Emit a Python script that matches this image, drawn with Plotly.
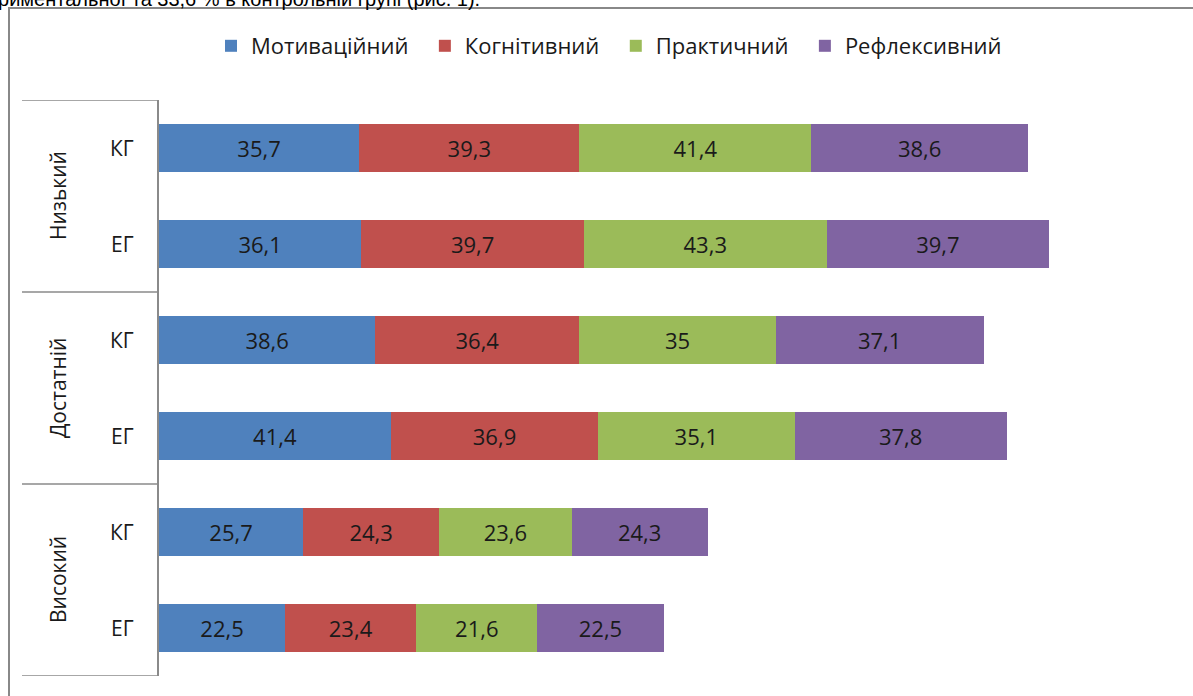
import plotly.graph_objects as go

levels = ["Низький", "Достатній", "Високий"]
groups = ["КГ", "ЕГ"]
series_names = ["Мотиваційний", "Когнітивний", "Практичний", "Рефлексивний"]
colors = ["#4F81BD", "#C0504D", "#9BBB59", "#8064A2"]

# rows top-to-bottom: Низький КГ, Низький ЕГ, Достатній КГ, Достатній ЕГ, Високий КГ, Високий ЕГ
motiv = [35.7, 36.1, 38.6, 41.4, 25.7, 22.5]
cogn = [39.3, 39.7, 36.4, 36.9, 24.3, 23.4]
pract = [41.4, 43.3, 35.0, 35.1, 23.6, 21.6]
refl = [38.6, 39.7, 37.1, 37.8, 24.3, 22.5]
series_values = [motiv, cogn, pract, refl]

row_pos = list(range(len(motiv)))

W, H = 1193, 696
L, R, T, B = 159, 1168, 100, 676
pw, ph = R - L, B - T


def px_x(x):
    return (x - L) / pw


def px_y(y):
    return (B - y) / ph


def fmt(v):
    return f"{v:g}".replace(".", ",")


NB = "\u00a0"
legend_labels = [n + NB * 2 if i < len(series_names) - 1 else n
                 for i, n in enumerate(series_names)]

fig = go.Figure()
for name, vals, col in zip(legend_labels, series_values, colors):
    fig.add_trace(go.Bar(
        x=vals, y=row_pos, orientation="h", name=name,
        marker=dict(color=col, line=dict(width=0)),
        text=[fmt(v) for v in vals], textposition="inside",
        insidetextanchor="middle", textangle=0, constraintext="none",
        textfont=dict(family="Open Sans", size=22, color="#1a1a1a"),
        hoverinfo="x+name",
    ))

annotations = []
# sub-group labels
for i, r in enumerate(row_pos):
    annotations.append(dict(
        x=px_x(122), xref="paper", y=r, yref="y", text=groups[i % 2],
        showarrow=False, xanchor="center", yanchor="middle",
        font=dict(family="Open Sans", size=21, color="#1a1a1a")))
# level labels (rotated)
for j, lv in enumerate(levels):
    annotations.append(dict(
        x=px_x(58), xref="paper", y=2 * j + 0.5, yref="y", text=lv,
        textangle=-90, showarrow=False, xanchor="center", yanchor="middle",
        font=dict(family="Open Sans", size=21, color="#1a1a1a")))
# clipped text line from the surrounding page
annotations.append(dict(
    x=px_x(482), xref="paper", y=px_y(-1), yref="paper",
    text="експериментальної та 33,6 % в контрольній групі (рис. 1).",
    showarrow=False, xanchor="right", yanchor="middle",
    font=dict(family="Liberation Sans", size=20, color="#000000")))

shapes = []
line_col = "#8a8a8a"
for yb in [-0.5, 1.5, 3.5, 5.5]:
    shapes.append(dict(type="line", xref="paper", yref="y",
                       x0=px_x(22), x1=0, y0=yb, y1=yb,
                       line=dict(color=line_col, width=1.5)))
# outer chart border
shapes.append(dict(type="rect", xref="paper", yref="paper",
                   x0=px_x(9), x1=px_x(1250), y0=px_y(8), y1=px_y(760),
                   line=dict(color="#888888", width=2)))

fig.update_layout(
    width=W, height=H,
    margin=dict(l=L, r=W - R, t=T, b=H - B),
    paper_bgcolor="white", plot_bgcolor="white",
    barmode="stack", bargap=0.5,
    font=dict(family="Open Sans", size=21, color="#1a1a1a"),
    xaxis=dict(range=[0, 180], showgrid=False, zeroline=False,
               showticklabels=False, ticks="", showline=False, fixedrange=True),
    yaxis=dict(range=[5.5, -0.5], showgrid=False, zeroline=False,
               showticklabels=False, ticks="", showline=True,
               linecolor=line_col, linewidth=1.5, fixedrange=True),
    legend=dict(orientation="h", x=px_x(609), xanchor="center",
                y=px_y(46), yanchor="middle",
                font=dict(family="Open Sans", size=22, color="#1a1a1a"),
                traceorder="normal", itemclick=False),
    annotations=annotations, shapes=shapes,
    showlegend=True,
)

fig.write_html(
    "out.html",
    config={"displayModeBar": False},
    post_script="document.body.style.margin='0';document.body.style.overflow='hidden';",
)
